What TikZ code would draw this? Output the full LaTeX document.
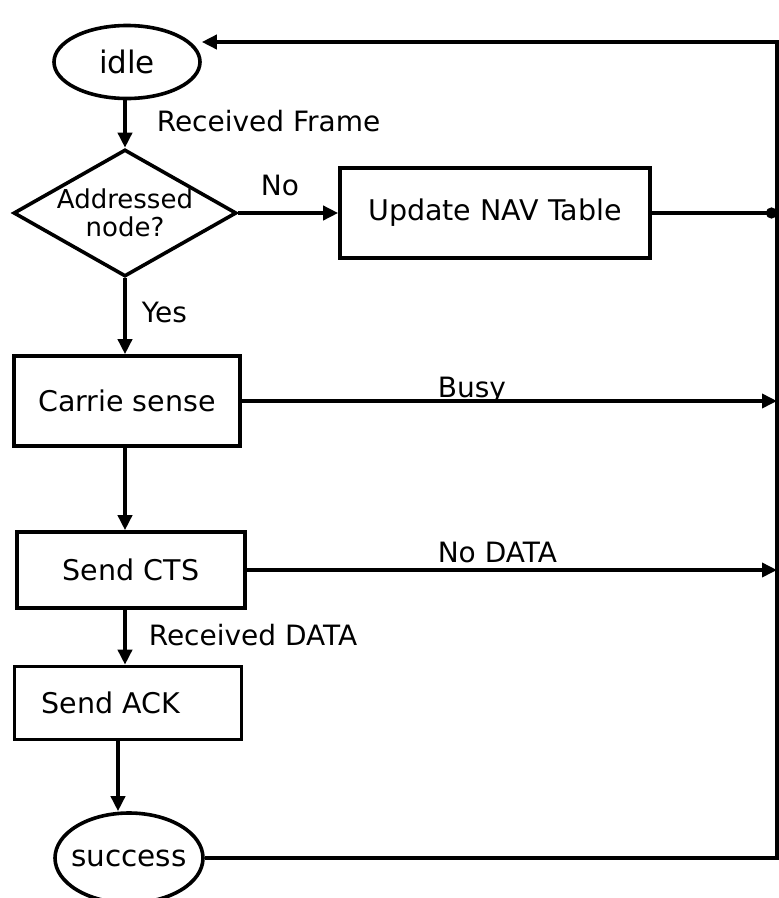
\documentclass[tikz,border=0pt]{standalone}
\usepackage{fontspec}
\setmainfont{DejaVu Sans}
\usetikzlibrary{shapes.geometric,arrows.meta}

\begin{document}
\begin{tikzpicture}[x=1pt,y=-1pt,
  line width=3.6pt,
  every node/.style={inner sep=0pt, font=\fontsize{28}{32}\selectfont},
  stadium/.style={draw, ellipse},
  procbox/.style={draw, rectangle, font=\fontsize{28.5}{32}\selectfont},
  decision/.style={draw, diamond, aspect=1.756, align=center,
                   font=\fontsize{26}{28}\selectfont},
  flow/.style={-{Triangle[length=15pt,width=14pt]}},
  lbl/.style={anchor=base west}
]
\useasboundingbox (0,0) rectangle (779,898);

% states and steps
\node[stadium, minimum width=146pt, minimum height=73pt, font=\fontsize{31}{34}\selectfont] (idle) at (127,62) {idle};
\node[decision, minimum width=223pt, minimum height=127pt] (dec) at (125,213) {Addressed\\node?};
\node[procbox, minimum width=310pt, minimum height=90pt] (nav) at (495,213) {Update NAV Table};
\node[procbox, minimum width=226pt, minimum height=90pt] (carrier) at (127,401) {Carrie sense};
\node[procbox, minimum width=228pt, minimum height=76pt] (cts) at (131,570) {Send CTS};
\node[procbox, minimum height=73pt, text width=173pt, inner xsep=27pt, align=left] (ack) at (128,703) {Send ACK};
% the end state: a fixed-size ellipse with its word set on top
\node[stadium, minimum width=148pt, minimum height=90pt] (succ) at (129,858) {};
\node[font=\fontsize{29.5}{32}\selectfont] (succtext) at (succ.center) {success};

% helper points for the main column and the return bus
\coordinate (col) at (125,0);
\coordinate (rt) at (777,42);
\coordinate (rb) at (777,858);

% main column
\draw[flow] (idle.south -| col) -- (dec.north);
\draw[flow] (dec.south) -- (carrier.north -| col);
\draw[flow] (carrier.south -| col) -- (cts.north -| col);
\draw[flow] (cts.south -| col) -- (ack.north -| col);
\draw[flow] ([xshift=-10pt]ack.south) -- ([xshift=-10pt]ack.south |- succ.north);

% branches to the return bus
\draw[flow] (dec.east) -- (nav.west);
\draw[-{Circle[length=11pt]}] (nav.east) -- (nav.east -| rt);
\draw[flow] (carrier.east) -- (carrier.east -| rt);
\draw[flow] (cts.east) -- (cts.east -| rt);
\draw[flow] (succ.east) -- (rb) -- (rt) -- (idle.east |- rt);

% connector labels
\node[lbl] (lframe) at (155,131) {Received Frame};
\node[anchor=base] (lno) at (280,195) {No};
\node[lbl] (lyes) at (140,322) {Yes};
\node[lbl] (lbusy) at (436,397) {Busy};
\node[lbl] (lnodata) at (436,562) {No DATA};
\node[lbl] (ldata) at (147,645) {Received DATA};
\end{tikzpicture}
\end{document}
